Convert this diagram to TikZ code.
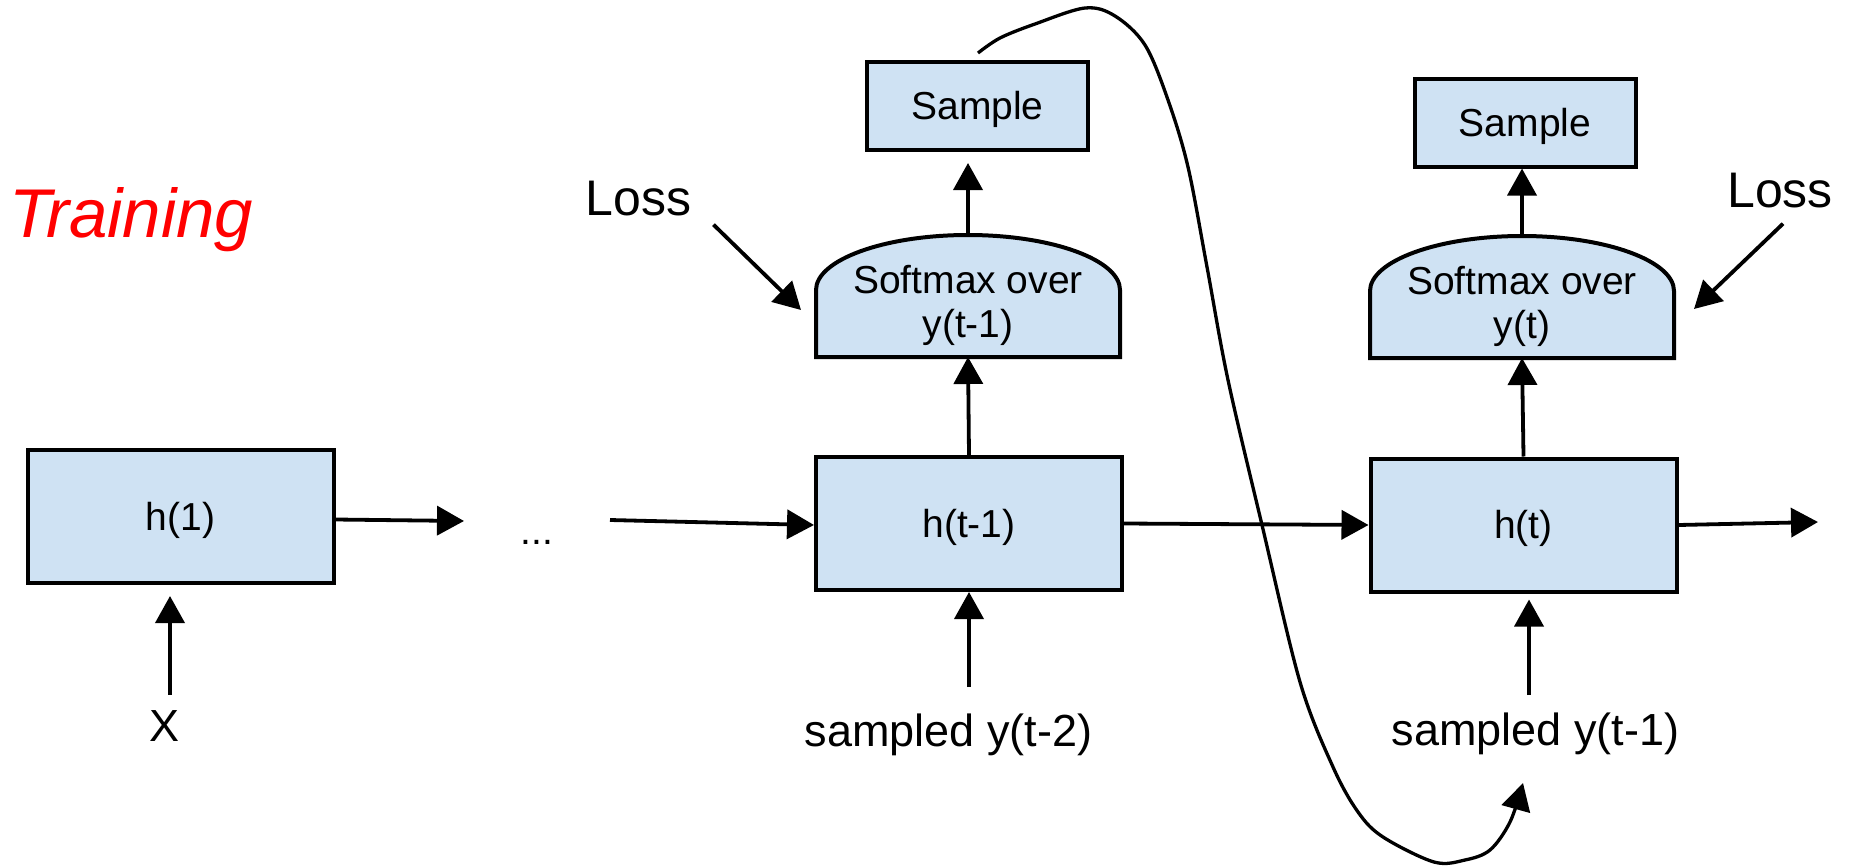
\documentclass[tikz,border=0pt]{standalone}
\usepackage{fontspec}
\setmainfont{Liberation Sans}
\usetikzlibrary{arrows.meta,calc,backgrounds}
\definecolor{boxfill}{HTML}{CFE2F3}
\definecolor{trainred}{HTML}{FF0000}
\begin{document}
\begin{tikzpicture}[x=1pt,y=-1pt,
  boxtxt/.style={font=\fontsize{39}{44}\selectfont},
  rnnbox/.style={boxtxt, draw=black, line width=4pt, fill=boxfill, inner sep=0pt,
    minimum width=306pt, minimum height=133pt, text height=35.3pt, text depth=8.3pt},
  samplebox/.style={rnnbox, minimum width=221pt, minimum height=88pt},
  softbox/.style={boxtxt, inner sep=0pt, outer sep=0pt, minimum width=304pt,
    minimum height=122pt, align=center},
  softshape/.style={draw=black, line width=4pt, fill=boxfill},
  lbl/.style={font=\fontsize{45}{50}\selectfont, inner sep=0pt, anchor=base},
  losslbl/.style={font=\fontsize{50}{55}\selectfont, inner sep=0pt, anchor=base},
  arr/.style={line width=3.8pt, -{Triangle[length=27pt,width=29pt]}},
  curvearr/.style={line width=3.3pt, -{Triangle[length=27pt,width=29pt]}},
]
\useasboundingbox (0,0) rectangle (1851,867);

% title
\node[font=\fontsize{69}{74}\selectfont\itshape, text=trainred, inner sep=0pt,
  anchor=base west] (train) at (9,237) {Training};

% boxes
\node[rnnbox] (h1) at (180.5,516.5) {h(1)};
\node[rnnbox] (ht1) at (969,523.5) {h(t-1)};
\node[rnnbox] (ht) at (1523.5,525) {h(t)};
\node[samplebox] (sp1) at (977.5,106) {Sample};
\node[samplebox] (sp2) at (1525,122.5) {Sample};
\node[softbox] (sm1) at (968,296) {\rule{0pt}{47pt}Softmax over\\y(t-1)};
\node[softbox] (sm2) at (1522,297) {\rule{0pt}{47pt}Softmax over\\y(t)};

\begin{scope}[on background layer]
  \foreach \s in {sm1,sm2}{
    \draw[softshape] (\s.south west) -- ($(\s.south west)+(0,-67)$)
      .. controls ($(\s.south west)+(0,-97)$) and ($(\s.north)+(-84,0)$) .. (\s.north)
      .. controls ($(\s.north)+(84,0)$) and ($(\s.south east)+(0,-97)$) .. ($(\s.south east)+(0,-67)$)
      -- (\s.south east) -- cycle;
  }
\end{scope}

% labels
\node[lbl] (xin) at (165,741) {X};
\node[lbl] (s2) at (948.5,746) {sampled y(t-2)};
\node[lbl] (s1) at (1535.5,745) {sampled y(t-1)};
\node[losslbl] (loss1) at (638.5,215) {Loss};
\node[losslbl] (loss2) at (1780,207) {Loss};
\node[boxtxt, inner sep=0pt, anchor=base] (dots) at (537,544) {...};

% free ends
\coordinate (d1) at (464,521);
\coordinate (d2) at (610,520);
\coordinate (hout) at (1818,522);

% horizontal arrows
\draw[arr] ($(h1.east)+(0,3)$) -- (d1);
\draw[arr] (d2) -- ($(ht1.west)+(0,1.5)$);
\draw[arr] (ht1.east) -- (ht.west);
\draw[arr] (ht.east) -- (hout);

% vertical arrows
\draw[arr] (ht1.north) -- (sm1.south);
\draw[arr] (sm1.north) -- ($(sp1.south)+(-9.5,11)$);
\draw[arr] (ht.north) -- (sm2.south);
\draw[arr] (sm2.north) -- (sm2.north |- sp2.south);
\draw[arr] ($(ht1.south |- s2.north)+(0,-26)$) -- (ht1.south);
\draw[arr] ($(s1.north)+(-6.5,-17)$) -- ($(ht.south)+(5.5,6)$);
\draw[arr] ($(xin.north)+(5,-15)$) -- ($(h1.south)+(-10.5,11)$);

% loss arrows
\draw[arr] ($(loss1.south east)+(22,9)$) -- ($(sm1.west)+(-15,14)$);
\draw[arr] ($(loss2.south)+(3,16)$) -- ($(sm2.east)+(20,12)$);

% feedback curve
\coordinate (cs) at ($(sp1.north)+(0.5,-7)$);
\coordinate (ce) at ($(s1.south)+(-12.5,28.5)$);
\draw[curvearr] plot[smooth, tension=0.55] coordinates {(cs) (1000,38) (1035,24)
  (1085,8) (1115,16) (1145,45) (1168,100) (1188,167) (1207,267) (1228,380)
  (1262,525) (1300,682) (1333,767) (1358,812) (1383,837) (1434,862) (1465,860)
  (1490,850) (1510,822) (ce)};
\end{tikzpicture}
\end{document}
